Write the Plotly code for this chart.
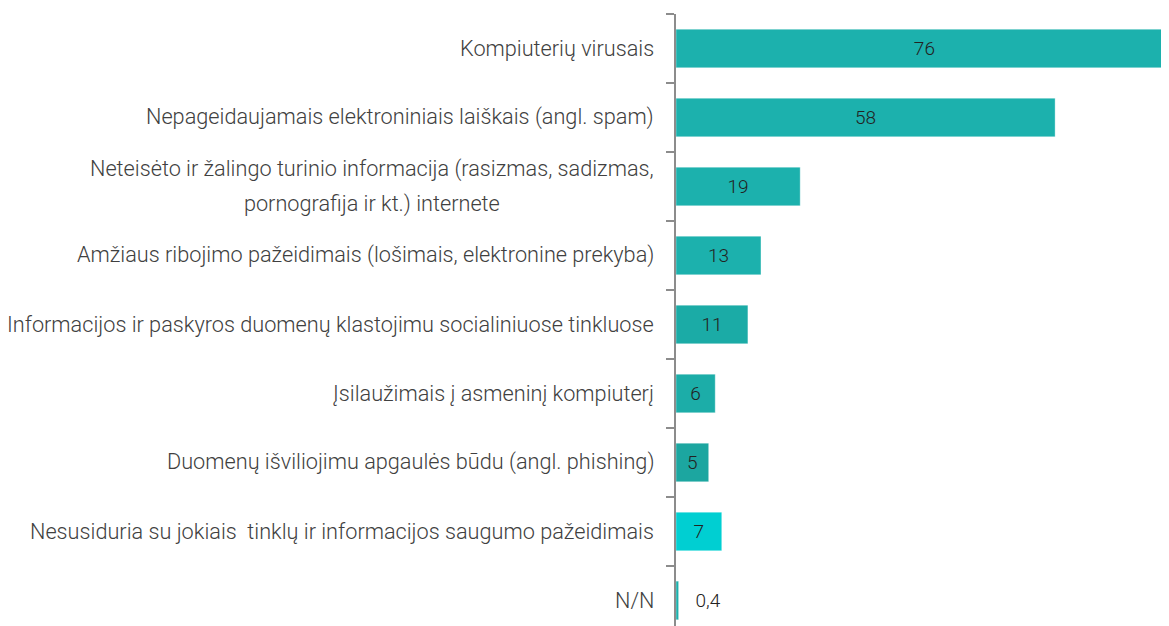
import plotly.graph_objects as go

categories = [
    "Kompiuterių virusais",
    "Nepageidaujamais elektroniniais laiškais (angl. spam)",
    "Neteisėto ir žalingo turinio informacija (rasizmas, sadizmas,<br>pornografija ir kt.) internete",
    "Amžiaus ribojimo pažeidimais (lošimais, elektronine prekyba)",
    "Informacijos ir paskyros duomenų klastojimu socialiniuose tinkluose",
    "Įsilaužimais į asmeninį kompiuterį",
    "Duomenų išviliojimu apgaulės būdu (angl. phishing)",
    "Nesusiduria su jokiais  tinklų ir informacijos saugumo pažeidimais",
    "N/N",
]
values = [76, 58, 19, 13, 11, 6, 5, 7, 0.4]
value_labels = ["76", "58", "19", "13", "11", "6", "5", "7", "\u00a0\u00a0\u00a00,4"]
bar_colors = ["#1CB1AD", "#1CB1AD", "#1CB1AD", "#1CB1AD", "#1BABA6",
              "#1CADA8", "#1CA6A0", "#00CFD2", "#1CB1AD"]
text_positions = ["inside"] * 8 + ["outside"]

FONT = "Roboto"
LABEL_SIZE = 21.7

fig = go.Figure()
fig.add_trace(go.Bar(
    y=categories,
    x=values,
    orientation="h",
    marker=dict(color=bar_colors, line=dict(color="rgba(255,255,255,0.35)", width=1)),
    text=value_labels,
    textposition=text_positions,
    insidetextanchor="middle",
    textangle=0,
    textfont=dict(family=FONT, size=19, color="#222222", weight=300),
    cliponaxis=True,
    hoverinfo="skip",
))

annotations = []
for cat in categories:
    multi = "<br>" in cat
    annotations.append(dict(
        xref="paper", yref="y", x=0, y=cat,
        xanchor="right", yanchor="middle", xshift=-20,
        text=(f"<span style='font-size:{LABEL_SIZE}px'>" + cat + "</span>") if multi else cat,
        align="center", showarrow=False,
        font=dict(family=FONT, size=27 if multi else LABEL_SIZE, color="#404040", weight=300),
    ))

# page body has an 8px default margin, so the figure is shifted by 8px
fig.update_layout(
    width=1153, height=618,
    margin=dict(l=668, r=0, t=6, b=0),
    plot_bgcolor="white", paper_bgcolor="white",
    showlegend=False,
    bargap=0.44,
    annotations=annotations,
    xaxis=dict(range=[0, 74.2], showgrid=False, zeroline=False, showline=False,
               showticklabels=False, ticks=""),
    yaxis=dict(
        type="category",
        categoryorder="array", categoryarray=categories,
        range=[8.37, -0.5],
        showgrid=False, zeroline=False,
        showline=True, linecolor="#8C8C8C", linewidth=2,
        ticks="outside", ticklen=8, tickwidth=2, tickcolor="#8C8C8C",
        tickson="boundaries",
        showticklabels=False,
    ),
)

fig.write_html("out.html")
